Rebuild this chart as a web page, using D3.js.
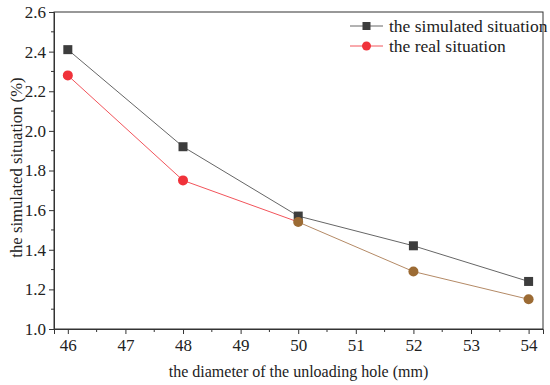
<!DOCTYPE html>
<html>
<head>
<meta charset="utf-8">
<script src="https://cdn.jsdelivr.net/npm/d3@7"></script>
<style>
  body { margin: 0; background: #fff; }
  svg { display: block; }
  text { font-family: "Liberation Serif", "Times New Roman", serif; fill: #222; }
</style>
</head>
<body>
<svg id="chart" width="550" height="385"></svg>
<script>
const diameters = [46, 48, 50, 52, 54];
const simulated = [2.41, 1.92, 1.57, 1.42, 1.24];
const real = [2.28, 1.75, 1.54, 1.29, 1.15];
const xTicks = [46, 47, 48, 49, 50, 51, 52, 53, 54];
const yTicks = [1.0, 1.2, 1.4, 1.6, 1.8, 2.0, 2.2, 2.4, 2.6];
const seriesNames = ["the simulated situation", "the real situation"];

const svg = d3.select("#chart");
const margin = { top: 12, right: 7, bottom: 56, left: 54 };
const width = 550, height = 385;
const innerW = width - margin.left - margin.right;
const innerH = height - margin.top - margin.bottom;

const x = d3.scaleLinear().domain([45.76, 54.25]).range([0, innerW]);
const y = d3.scaleLinear().domain([1.0, 2.6]).range([innerH, 0]);

const g = svg.append("g").attr("transform", `translate(${margin.left},${margin.top})`);

// frame
g.append("rect")
  .attr("width", innerW).attr("height", innerH)
  .attr("fill", "none").attr("stroke", "#333").attr("stroke-width", 1);

// x axis
const xAxis = g.append("g").attr("transform", `translate(0,${innerH})`)
  .call(d3.axisBottom(x).tickValues(xTicks).tickFormat(d3.format("d")).tickSize(5).tickPadding(5));
xAxis.append("g").selectAll("line")
  .data(d3.range(46.5, 54, 1))
  .enter().append("line")
  .attr("x1", d => x(d)).attr("x2", d => x(d))
  .attr("y1", 0).attr("y2", 3)
  .attr("stroke", "#333");

// y axis
const yAxis = g.append("g")
  .call(d3.axisLeft(y).tickValues(yTicks).tickFormat(d3.format(".1f")).tickSize(5).tickPadding(3));
yAxis.append("g").selectAll("line")
  .data(d3.range(1.1, 2.6, 0.2))
  .enter().append("line")
  .attr("y1", d => y(d)).attr("y2", d => y(d))
  .attr("x1", 0).attr("x2", -3)
  .attr("stroke", "#333");

[xAxis, yAxis].forEach(a => {
  a.attr("font-family", "'Liberation Serif', serif");
  a.select(".domain").attr("stroke", "#333");
  a.selectAll(".tick line").attr("stroke", "#333");
  a.selectAll(".tick text").style("font-size", "17px").attr("fill", "#222");
});

// axis titles
g.append("text")
  .attr("x", innerW / 2 + 0).attr("y", innerH + 48)
  .attr("text-anchor", "middle")
  .style("font-size", "16px")
  .text("the diameter of the unloading hole (mm)");

g.append("text")
  .attr("transform", `translate(${-32},${innerH / 2 - 3}) rotate(-90)`)
  .attr("text-anchor", "middle")
  .style("font-size", "16.7px")
  .text("the simulated situation (%)");

// lines
const simData = diameters.map((d, i) => ({ x: d, y: simulated[i] }));
const realData = diameters.map((d, i) => ({ x: d, y: real[i] }));
const line = d3.line().x(d => x(d.x)).y(d => y(d.y));

g.append("path").datum(simData)
  .attr("d", line).attr("fill", "none")
  .attr("stroke", "#666").attr("stroke-width", 1);

// real series: drawn segment by segment (later part looks brownish in the original)
const realLineColor = i => i < 2 ? "#f2545b" : "#b48a66";
const realDotColor = i => i < 2 ? "#f0323a" : "#9c6b34";
g.append("g").selectAll("path")
  .data(d3.pairs(realData))
  .enter().append("path")
  .attr("d", d => line(d))
  .attr("fill", "none")
  .attr("stroke", (d, i) => realLineColor(i))
  .attr("stroke-width", 1);

g.append("g").selectAll("rect")
  .data(simData)
  .enter().append("rect")
  .attr("x", d => x(d.x) - 4.5).attr("y", d => y(d.y) - 4.5)
  .attr("width", 9).attr("height", 9)
  .attr("fill", "#3d3d3d");

g.append("g").selectAll("circle")
  .data(realData)
  .enter().append("circle")
  .attr("cx", d => x(d.x)).attr("cy", d => y(d.y))
  .attr("r", 5)
  .attr("fill", (d, i) => realDotColor(i));

// legend
const legend = g.append("g").attr("transform", `translate(${350 - margin.left},${26 - margin.top})`);
seriesNames.forEach((name, i) => {
  const row = legend.append("g").attr("transform", `translate(0,${i * 20})`);
  row.append("line").attr("x1", 0).attr("x2", 33).attr("y1", 0).attr("y2", 0)
    .attr("stroke", i === 0 ? "#666" : "#f2545b").attr("stroke-width", 1);
  if (i === 0) {
    row.append("rect").attr("x", 12.5).attr("y", -4).attr("width", 8).attr("height", 8).attr("fill", "#3d3d3d");
  } else {
    row.append("circle").attr("cx", 16.5).attr("cy", 0).attr("r", 4.5).attr("fill", "#f0323a");
  }
  row.append("text").attr("x", 39).attr("y", 5.5)
    .style("font-size", "17.5px")
    .text(name);
});
</script>
</body>
</html>
